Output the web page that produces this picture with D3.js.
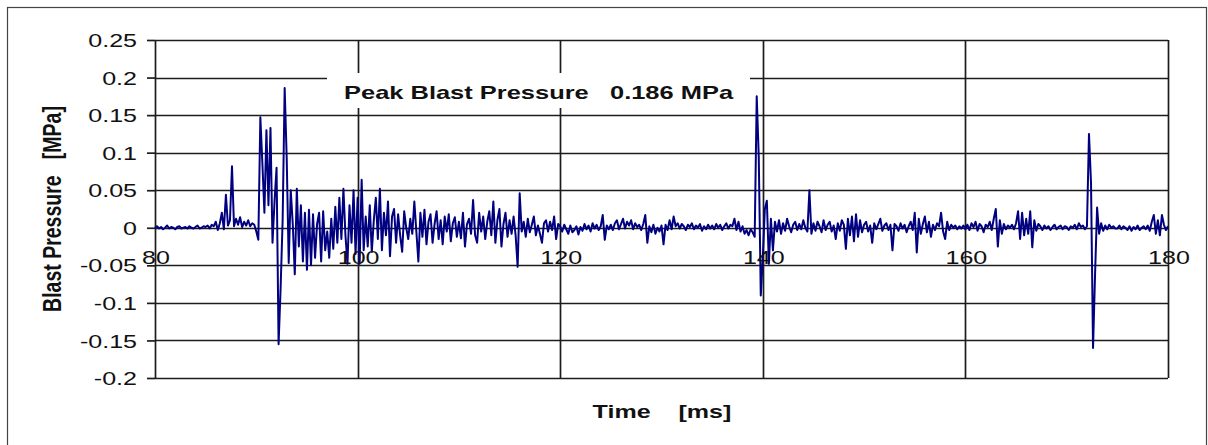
<!DOCTYPE html>
<html>
<head>
<meta charset="utf-8">
<script src="https://cdn.jsdelivr.net/npm/d3@7"></script>
<style>
  html, body { margin: 0; padding: 0; background: #fff; }
  svg { display: block; }
  text { font-family: "Liberation Sans", Arial, Helvetica, sans-serif; fill: #111; white-space: pre; }
</style>
</head>
<body>
<svg id="chart" width="1208" height="445"></svg>
<script>
// Pressure record sampled every 0.2 ms, values in kPa (0.001 MPa)
const timeStart = 80;   // ms
const timeStep = 0.2;   // ms

const pressure80to100 = [
  0, 2, -1, 1, -2, 0, 3, -1, 1, 0, -2, 1, 2, -1, 0, 1, -1, 2, 0, -1, 1, 3, -1, 0, 2,
  1, 3, -1, 4, 2, 8, -3, 6, 20, -2, 44, 3, 10, 82, 2, 12, 4, 14, 1, 8, 3, 10, 2, 6, 4,
  -5, -16, 147, 86, 20, 130, 30, 133, -20, 35, 80, -155, -80, 10, 186, 94, -47, 50, 5, -62, 52, -25, 30, -45, 20,
  -56, 24, -50, 18, -40, 5, 20, -45, 22, -30, -5, -40, 12, -28, 28, -20, 40, -15, 52, -10, -48, 30, -20, 50, -35
];
const pressure100to120 = [
  40, -48, 64, -30, 15, -25, 30, -32, 10, 40, -15, 52, -30, 20, -10, 35, -38, 15, 25, -20, 18, -10, -32, 22, 0,
  -15, 12, -8, 35, -5, -45, 20, -12, 24, -22, 8, 18, -20, 5, 22, -15, 10, -22, 15, -5, 18, -18, 6, 14, -12,
  8, -14, 20, -25, 5, 12, -8, 37, -10, -20, 20, -5, 15, -15, 8, 22, -10, 35, -20, 10, 25, -25, 5, 20, -12,
  10, -8, 15, -10, -52, 46, -5, 8, -12, 12, -6, 4, 15, -10, 3, -8, -20, 6, 10, -5, 8, -3, 15, -15, 5
];
const pressure120to140 = [
  2, -5, 4, -2, -8, 3, -6, -3, 2, -9, 1, -4, 5, -2, 3, -5, 6, -1, 4, -3, 2, 17, -16, 3, -2,
  4, -3, 6, 10, -2, 5, 12, -1, 8, 3, 10, -2, 6, 1, 4, -3, 5, 17, -20, 2, -6, 4, -8, 0, -5,
  3, -22, 4, -3, 10, -2, 15, 2, 6, -1, 5, 2, -3, 4, 1, 6, -2, 3, 0, 5, -4, 2, -2, 4, -1,
  3, -2, 5, 0, 4, -3, 2, 6, -1, 4, 2, 12, -3, 8, -5, 2, -8, -3, -10, -2, -6, -12, 175, 95, -90
];
const pressure140to160 = [
  -40, 25, 36, -48, 12, -30, 8, -5, 10, -8, 6, -4, 12, 2, -6, 4, 8, -3, 5, -2, 10, 0, -5, 50, -8,
  6, -4, 8, 2, -6, 10, -3, 4, 8, -5, 3, -15, 6, -4, 10, 4, -28, 12, -10, 15, -18, 18, -12, 10, -6,
  4, 8, -5, 3, -20, 6, -2, 5, 12, -4, 3, 6, -3, 4, -30, 5, 2, -4, 6, -1, 4, -6, 2, 8, -3,
  20, -33, 12, -8, 5, 15, -6, 8, -12, 4, -3, 6, 2, 20, -5, -15, 8, -3, 4, 0, 3, -2, 2, -1, 3
];
const pressure160to180 = [
  -2, 4, -3, 6, 1, 8, -4, 5, 2, -6, 4, 1, 8, -3, 12, 25, -25, 10, -8, 5, -2, 3, 0, 4, -2,
  6, 22, -15, 20, -10, 12, -8, 22, -26, 10, -4, 5, 2, -3, 3, -1, 2, -3, 1, 4, -2, 1, 3, -2, 2,
  1, -3, 2, 0, 4, -2, 6, 1, 3, -2, 2, 125, 60, -160, -62, 27, -8, 6, -4, 3, -2, 4, 0, 2, -1,
  -1, 3, -2, 2, 0, -3, 2, -4, 1, -2, 3, -3, 0, 2, -2, 3, -4, 8, 17, -8, 10, -10, 17, 4, -3, 2
];

const xTicks = [80, 100, 120, 140, 160, 180];
const xTickLabels = ["80", "100", "120", "140", "160", "180"];
const yTicks = [0.25, 0.2, 0.15, 0.1, 0.05, 0, -0.05, -0.1, -0.15, -0.2];
const yTickLabels = ["0.25", "0.2", "0.15", "0.1", "0.05", "0", "-0.05", "-0.1", "-0.15", "-0.2"];

const peakLabel = "Peak Blast Pressure   0.186 MPa";
const xTitle = "Time    [ms]";
const yTitle = "Blast Pressure   [MPa]";

// ---- layout ----
const plot = { left: 155, right: 1168, top: 40, bottom: 378 };
const stretch = 1.32;           // wide lettering of the original figure
const gridColor = "#1c1c1c";
const lineColor = "#000080";

const samples = [].concat(pressure80to100, pressure100to120, pressure120to140,
                          pressure140to160, pressure160to180)
  .map((v, i) => ({ t: timeStart + i * timeStep, p: v / 1000 }));

const x = d3.scaleLinear().domain([80, 180]).range([plot.left, plot.right]);
const y = d3.scaleLinear().domain([-0.2, 0.25]).range([plot.bottom, plot.top]);

const svg = d3.select("#chart");

// outer frame
svg.append("rect")
  .attr("x", 7.5).attr("y", 7.5).attr("width", 1199).attr("height", 460)
  .attr("fill", "none").attr("stroke", "#444").attr("stroke-width", 1.2);

// horizontal gridlines
svg.append("g").selectAll("line").data(yTicks).join("line")
  .attr("x1", plot.left).attr("x2", plot.right)
  .attr("y1", d => Math.round(y(d)) + 0.5).attr("y2", d => Math.round(y(d)) + 0.5)
  .attr("stroke", gridColor).attr("stroke-width", 1.7);

// vertical gridlines
svg.append("g").selectAll("line").data(xTicks).join("line")
  .attr("x1", d => Math.round(x(d)) + 0.5).attr("x2", d => Math.round(x(d)) + 0.5)
  .attr("y1", plot.top).attr("y2", plot.bottom)
  .attr("stroke", gridColor).attr("stroke-width", 1.7);

// value axis with outward ticks
const yAxis = svg.append("g")
  .attr("transform", `translate(${plot.left},0)`)
  .call(d3.axisLeft(y).tickValues(yTicks).tickSize(8).tickFormat((d, i) => yTickLabels[i]));
yAxis.select(".domain").remove();
yAxis.selectAll(".tick line").attr("stroke", gridColor).attr("stroke-width", 1.7);
yAxis.selectAll(".tick text")
  .attr("x", -18 / stretch).attr("dy", "0.35em")
  .attr("transform", `scale(${stretch},1)`)
  .style("font-size", "19px").attr("fill", "#111");

// pressure trace
const line = d3.line().x(d => x(d.t)).y(d => y(d.p));
svg.append("path")
  .datum(samples)
  .attr("d", line)
  .attr("fill", "none")
  .attr("stroke", lineColor)
  .attr("stroke-width", 2)
  .attr("stroke-linejoin", "round");

// time tick labels sitting just below the zero line
svg.append("g").selectAll("text").data(xTicks).join("text")
  .attr("transform", d => `translate(${x(d) + 1},264) scale(${stretch},1)`)
  .attr("text-anchor", "middle")
  .style("font-size", "19px")
  .text((d, i) => xTickLabels[i]);

// annotation box
svg.append("rect")
  .attr("x", 327).attr("y", 73).attr("width", 423).attr("height", 35)
  .attr("fill", "#fff");
svg.append("text")
  .attr("transform", `translate(344,99) scale(${stretch},1)`)
  .style("font-size", "19.3px").style("font-weight", "bold")
  .text(peakLabel);

// axis titles
svg.append("text")
  .attr("transform", `translate(662,418) scale(${stretch},1)`)
  .attr("text-anchor", "middle")
  .style("font-size", "19px").style("font-weight", "bold")
  .text(xTitle);

svg.append("text")
  .attr("transform", `translate(61,209) scale(${stretch},1) rotate(-90)`)
  .attr("text-anchor", "middle")
  .style("font-size", "19.5px").style("font-weight", "bold")
  .text(yTitle);
</script>
</body>
</html>
